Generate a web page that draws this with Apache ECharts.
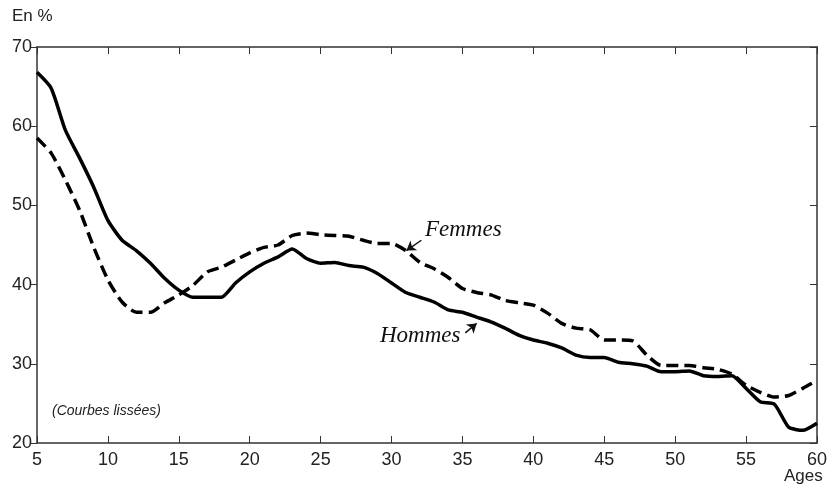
<!DOCTYPE html>
<html>
    <head>
        <meta charset="UTF-8">
        <title>Courbes lissées Hommes / Femmes</title>
        <script type="text/javascript" src="https://cdn.jsdelivr.net/npm/echarts@6/dist/echarts.min.js"></script>
    </head>
    <body style="margin: 0; background: #fff;">
        <div id="container" style="width: 830px; height: 490px;"></div>
    </body>
    <script type="text/javascript">
        var dom = document.getElementById("container");
        var myChart = echarts.init(dom);

        // ages 5 .. 60
        const ages = [5, 6, 7, 8, 9, 10, 11, 12, 13, 14, 15, 16, 17, 18, 19, 20, 21, 22, 23, 24, 25, 26, 27, 28, 29, 30,
            31, 32, 33, 34, 35, 36, 37, 38, 39, 40, 41, 42, 43, 44, 45, 46, 47, 48, 49, 50, 51, 52, 53, 54, 55, 56, 57, 58, 59, 60];
        const hommes = [66.8, 64.8, 59.5, 56.0, 52.3, 48.1, 45.6, 44.3, 42.7, 40.8, 39.3, 38.4, 38.4, 38.4, 40.2, 41.6,
            42.7, 43.5, 44.5, 43.3, 42.7, 42.8, 42.4, 42.2, 41.4, 40.2, 39.0, 38.4, 37.8, 36.8, 36.5, 35.9, 35.3, 34.5,
            33.6, 33.0, 32.6, 32.0, 31.1, 30.8, 30.8, 30.2, 30.0, 29.7, 29.0, 29.0, 29.1, 28.5, 28.4, 28.5, 26.9, 25.2,
            24.9, 22.0, 21.6, 22.5];
        const femmes = [58.5, 56.6, 53.2, 49.4, 44.7, 40.6, 37.8, 36.5, 36.5, 37.7, 38.7, 39.9, 41.6, 42.2, 43.1, 44.0,
            44.7, 45.0, 46.2, 46.5, 46.3, 46.2, 46.1, 45.6, 45.2, 45.2, 44.3, 42.8, 42.0, 40.9, 39.5, 39.0, 38.7, 38.0,
            37.7, 37.4, 36.4, 35.1, 34.5, 34.3, 33.0, 33.0, 32.9, 31.1, 29.8, 29.8, 29.8, 29.5, 29.3, 28.7, 27.3, 26.4,
            25.8, 26.0, 26.9, 27.9];
        // arrows from labels to curves: [age, %] tail -> head
        const femmesArrow = [[32.1, 45.6], [31.05, 44.3]];
        const hommesArrow = [[35.2, 33.9], [36.0, 35.1]];

        const axisCol = '#333';
        const labelFont = { color: '#222', fontSize: 18, fontFamily: 'Liberation Sans, Arial, sans-serif' };

        function arrowLine(pts) {
            return {
                silent: true,
                symbol: ['none', 'arrow'],
                symbolSize: 9,
                label: { show: false },
                lineStyle: { color: '#111', width: 1.5, type: 'solid' },
                data: [[{ coord: pts[0] }, { coord: pts[1] }]]
            };
        }

        var option = {
            backgroundColor: '#fff',
            animation: false,
            grid: { left: 37, right: 12, top: 47, bottom: 47 },
            xAxis: [
                {
                    type: 'value', min: 5, max: 60, interval: 5,
                    axisLine: { lineStyle: { color: axisCol, width: 1.5 } },
                    axisTick: { inside: true, length: 7, lineStyle: { color: axisCol } },
                    axisLabel: Object.assign({ margin: 8 }, labelFont),
                    splitLine: { show: false }
                },
                {
                    type: 'value', min: 5, max: 60, interval: 5, position: 'top',
                    axisLine: { show: true, lineStyle: { color: axisCol, width: 1.5 } },
                    axisTick: { inside: true, length: 7, lineStyle: { color: axisCol } },
                    axisLabel: { show: false },
                    splitLine: { show: false }
                }
            ],
            yAxis: [
                {
                    type: 'value', min: 20, max: 70, interval: 10,
                    axisLine: { show: true, lineStyle: { color: axisCol, width: 1.5 } },
                    axisTick: { show: true, inside: false, length: 6, lineStyle: { color: axisCol } },
                    axisLabel: Object.assign({ margin: 5 }, labelFont),
                    splitLine: { show: false }
                },
                {
                    type: 'value', min: 20, max: 70, interval: 10, position: 'right',
                    axisLine: { show: true, lineStyle: { color: axisCol, width: 1.5 } },
                    axisTick: { show: true, inside: true, length: 7, lineStyle: { color: axisCol } },
                    axisLabel: { show: false },
                    splitLine: { show: false }
                }
            ],
            graphic: [
                { type: 'text', left: 12, top: 8, style: { text: 'En %', fill: '#222', font: '17px Liberation Sans, Arial, sans-serif' } },
                { type: 'text', left: 784, top: 468, style: { text: 'Ages', fill: '#222', font: '17px Liberation Sans, Arial, sans-serif' } },
                { type: 'text', left: 52, top: 404, style: { text: '(Courbes lissées)', fill: '#222', font: 'italic 14px Liberation Sans, Arial, sans-serif' } },
                { type: 'text', left: 425, top: 218, style: { text: 'Femmes', fill: '#111', font: 'italic 23px Liberation Serif, Times New Roman, serif' } },
                { type: 'text', left: 380, top: 324, style: { text: 'Hommes', fill: '#111', font: 'italic 23px Liberation Serif, Times New Roman, serif' } }
            ],
            series: [
                {
                    name: 'Hommes', type: 'line', showSymbol: false, silent: true, smooth: 0.2,
                    data: ages.map(function (a, i) { return [a, hommes[i]]; }),
                    lineStyle: { color: '#000', width: 3.5 },
                    markLine: arrowLine(hommesArrow)
                },
                {
                    name: 'Femmes', type: 'line', showSymbol: false, silent: true, smooth: 0.2,
                    data: ages.map(function (a, i) { return [a, femmes[i]]; }),
                    lineStyle: { color: '#000', width: 3.5, type: [12, 6] },
                    markLine: arrowLine(femmesArrow)
                }
            ]
        };

        myChart.setOption(option);
    </script>
</html>
